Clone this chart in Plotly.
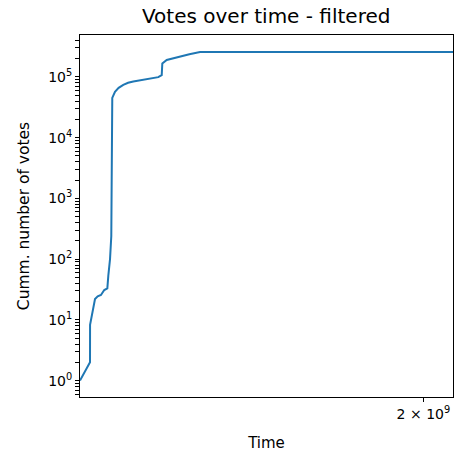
import plotly.graph_objects as go
import math

# Data (unix time in seconds, cumulative votes)
time_s = [1.200e9, 1.218e9, 1.2181e9, 1.2216e9, 1.2240e9, 1.2271e9, 1.2320e9,
          1.2380e9, 1.2441e9, 1.2498e9, 1.2516e9, 1.2548e9, 1.2572e9, 1.2580e9,
          1.2583e9, 1.2590e9, 1.2641e9, 1.2710e9, 1.2798e9, 1.2890e9, 1.2990e9,
          1.3120e9, 1.3253e9, 1.3380e9, 1.3482e9, 1.3551e9, 1.3563e9, 1.3652e9,
          1.3780e9, 1.3925e9, 1.4120e9, 1.4345e9, 1.5000e9, 1.7000e9, 2.090e9]
votes = [1.0, 2.0, 8.3, 12.5, 17, 22, 24.5,
         25.7, 31, 33, 53, 100, 240, 960,
         8000, 45000, 57000, 66000, 74000, 80000, 84000,
         88000, 91000, 95000, 99000, 107000, 166000, 190000,
         203000, 214000, 236000, 257000, 258000, 258000, 258000]

y_major = [1, 10, 100, 1000, 10000, 100000]
y_major_text = ["10<sup>0</sup>", "10<sup>1</sup>", "10<sup>2</sup>",
                "10<sup>3</sup>", "10<sup>4</sup>", "10<sup>5</sup>"]
x_tick = [2e9]
x_tick_text = ["2 × 10<sup>9</sup>"]

y_minor = [k * 10 ** e for e in range(-1, 6) for k in range(2, 10)]

x_range = [math.log10(1.2e9), math.log10(2.09e9)]
y_range = [-0.27, 5.69]

# all y ticks (major labelled, minor unlabelled)
y_all = sorted(y_major + [v for v in y_minor
                          if y_range[0] <= math.log10(v) <= y_range[1]])
y_all_text = [y_major_text[y_major.index(v)] if v in y_major else "" for v in y_all]

fig = go.Figure()
fig.add_trace(go.Scatter(x=time_s, y=votes, mode="lines",
                         line=dict(color="#1f77b4", width=2),
                         showlegend=False, hoverinfo="skip"))

fig.update_layout(
    width=459, height=457,
    margin=dict(l=80, r=6, t=35, b=60, autoexpand=False),
    paper_bgcolor="white", plot_bgcolor="white",
    font=dict(family="DejaVu Sans", size=14, color="black"),
    title=dict(text="Votes over time - filtered", x=0.58, xref="container",
               xanchor="center", y=0.98, yref="container", yanchor="top",
               font=dict(family="DejaVu Sans", size=20, color="black")),
    xaxis=dict(
        type="log", range=x_range,
        tickvals=x_tick, ticktext=x_tick_text,
        ticks="outside", ticklen=4, tickwidth=1, tickcolor="black",
        showline=True, linecolor="black", linewidth=1, mirror=True,
        showgrid=False, zeroline=False, automargin=False,
        tickfont=dict(family="DejaVu Sans", size=14, color="black"),
        title=dict(text="Time", font=dict(family="DejaVu Sans", size=15, color="black"),
                   standoff=16),
    ),
    yaxis=dict(
        type="log", range=y_range,
        tickmode="array", tickvals=y_all, ticktext=y_all_text,
        ticks="outside", ticklen=4, tickwidth=1, tickcolor="black",
        showline=True, linecolor="black", linewidth=1, mirror=True,
        showgrid=False, zeroline=False, automargin=False,
        tickfont=dict(family="DejaVu Sans", size=14, color="black"),
        title=dict(text="Cumm. number of votes",
                   font=dict(family="DejaVu Sans", size=15.5, color="black"),
                   standoff=14),
    ),
)
fig.write_html("out.html", config={"displayModeBar": False},
               post_script="document.body.style.margin='0';document.body.style.padding='0';")
